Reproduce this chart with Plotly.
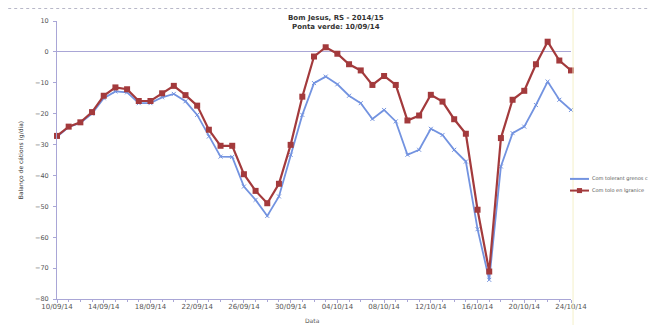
import plotly.graph_objects as go
import pandas as pd

start_date = "2014-09-10"
series_names = ["Com tolerant grenos c", "Com tolo en lgranice"]
blue_values = [-27.5, -24.3, -23.0, -20.0, -15.0, -12.8, -13.1, -16.6, -16.6, -14.7,
               -13.6, -16.0, -20.4, -27.4, -33.9, -34.0, -43.6, -47.9, -53.1, -46.8,
               -33.3, -20.4, -10.1, -8.0, -10.5, -14.2, -16.6, -21.7, -18.8, -22.5,
               -33.3, -31.7, -24.9, -26.9, -31.7, -35.5, -57.4, -73.8, -37.1, -26.3,
               -24.2, -17.2, -9.6, -15.5, -18.8]
red_values = [-27.2, -24.2, -22.8, -19.5, -14.2, -11.5, -12.1, -15.9, -15.9, -13.4,
              -11.0, -14.0, -17.4, -25.2, -30.4, -30.4, -39.6, -45.0, -49.0, -42.7,
              -30.1, -14.5, -1.5, 1.5, -0.6, -4.0, -6.0, -10.7, -7.8, -10.7,
              -22.2, -20.6, -13.9, -16.1, -21.8, -26.5, -51.1, -71.1, -27.9, -15.5,
              -12.6, -4.0, 3.3, -2.8, -6.0]
y_ticks = [10, 0, -10, -20, -30, -40, -50, -60, -70, -80]

dates = pd.date_range(start_date, periods=len(red_values), freq="D")

BLUE = "#7393e0"
RED = "#a33a3c"
GRAY = "#555555"
AXIS = "#a9a6d6"
FONT = "DejaVu Sans"

fig = go.Figure()
fig.add_trace(go.Scatter(
    x=dates, y=blue_values, name=series_names[0], mode="lines+markers",
    line=dict(color=BLUE, width=1.8), marker=dict(symbol="x-thin", size=4, color=BLUE,
                                                   line=dict(color=BLUE, width=1)),
    cliponaxis=False, showlegend=False))
fig.add_trace(go.Scatter(
    x=dates, y=red_values, name=series_names[1], mode="lines+markers",
    line=dict(color=RED, width=2.2), marker=dict(symbol="square", size=6, color=RED),
    cliponaxis=False, showlegend=False))

# manual legend (compact like the original)
leg_x0, leg_x1, leg_tx = 0.998, 1.035, 1.037
leg_y = [0.432, 0.390]
leg_colors = [BLUE, RED]
shapes = [
    dict(type="line", xref="paper", yref="paper", x0=-0.2, x1=1.3, y0=1.045, y1=1.045,
         line=dict(color="#b8b8c8", width=1, dash="dot")),
    dict(type="line", xref="paper", yref="paper", x0=1.004, x1=1.004, y0=-0.1, y1=1.045,
         line=dict(color="#f4f0c8", width=1)),
]
annotations = [
    dict(text="<b>Bom Jesus, RS - 2014/15</b><br><b>Ponta verde: 10/09/14</b>",
         xref="paper", yref="paper", x=0.543, y=0.995, xanchor="center", yanchor="middle",
         showarrow=False, font=dict(size=7, color="#333333", family=FONT)),
    dict(text="Data", xref="paper", yref="paper", x=0.498, y=-0.077,
         xanchor="center", yanchor="middle", showarrow=False,
         font=dict(size=6, color=GRAY, family=FONT)),
]
for name, yy, col in zip(series_names, leg_y, leg_colors):
    shapes.append(dict(type="line", xref="paper", yref="paper", x0=leg_x0, x1=leg_x1,
                       y0=yy, y1=yy, line=dict(color=col, width=2)))
    annotations.append(dict(text=name, xref="paper", yref="paper", x=leg_tx, y=yy,
                            xanchor="left", yanchor="middle", showarrow=False,
                            font=dict(size=5, color=GRAY, family=FONT)))
mx = (leg_x0 + leg_x1) / 2
shapes.append(dict(type="rect", xref="paper", yref="paper", x0=mx - 0.005, x1=mx + 0.005,
                   y0=leg_y[1] - 0.009, y1=leg_y[1] + 0.009, fillcolor=RED, line=dict(width=0)))

fig.update_layout(
    width=648, height=317,
    margin=dict(l=49, r=85, t=13, b=26),
    paper_bgcolor="white", plot_bgcolor="white",
    font=dict(family=FONT, size=7, color=GRAY),
    showlegend=False,
    annotations=annotations,
    shapes=shapes,
)

fig.update_xaxes(
    type="date", range=[dates[0], dates[-1]],
    tickmode="linear", tick0=dates[0], dtick=4 * 86400000, tickformat="%d/%m/%y",
    showgrid=False, zeroline=False,
    showline=True, linecolor=AXIS, linewidth=1,
    ticks="outside", ticklen=3, tickcolor=AXIS,
    minor=dict(dtick=86400000, ticks="outside", ticklen=2, tickcolor=AXIS, showgrid=False),
    tickfont=dict(size=7, color=GRAY), ticklabelstandoff=-2,
    automargin=False,
)
fig.update_yaxes(
    range=[-80, 10], tickvals=y_ticks, tickformat="d",
    showgrid=False, zeroline=True, zerolinecolor=AXIS, zerolinewidth=1,
    showline=True, linecolor=AXIS, linewidth=1,
    ticks="outside", ticklen=3, tickcolor=AXIS,
    tickfont=dict(size=6.5, color=GRAY), ticklabelstandoff=3,
    title=dict(text="Balanço de cátions (g/dia)", font=dict(size=6, color="#333333"),
               standoff=10),
    automargin=False,
)

fig.write_html("out.html")
